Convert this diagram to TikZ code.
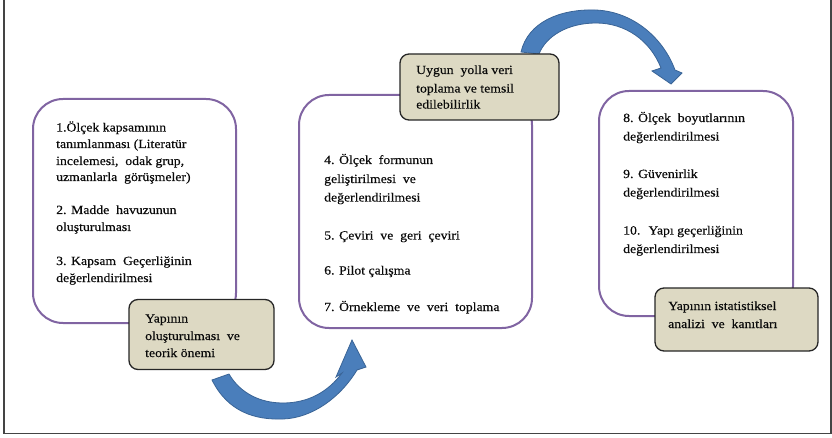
\documentclass[tikz,border=0pt]{standalone}
\usepackage{fontspec}
\usepackage{graphicx}
\setmainfont{Liberation Serif}[FakeBold=0.35]
\newcommand{\wtxt}[1]{\scalebox{1.1}[1]{#1}}
\definecolor{stagepurple}{HTML}{8064A2}
\definecolor{tagfill}{HTML}{DDD9C3}
\definecolor{arrowblue}{HTML}{4A7EBB}
\definecolor{arrowedge}{HTML}{3A6496}
\definecolor{framegray}{HTML}{444444}
\definecolor{inkc}{HTML}{0A0A0A}
\tikzset{
  stage/.style={draw=stagepurple, line width=2pt, rounded corners=30pt, fill=white},
  tagbox/.style={draw=black!85, fill=tagfill, line width=1.3pt, rounded corners=9pt},
  txt/.style={anchor=base west, inner sep=0pt, text=inkc, font=\fontsize{12.5}{14}\selectfont},
  bigarrow/.style={fill=arrowblue, draw=arrowedge, line width=0.8pt},
  frameline/.style={draw=framegray, line width=1.5pt}
}
\begin{document}
\begin{tikzpicture}[x=1pt,y=-1pt]
\useasboundingbox (0,0) rectangle (832,438);
\draw[frameline] (4,0) |- (831,433.5) -- (831,0);

% stage boxes
\node[stage, minimum width=203pt, minimum height=224pt] (s1) at (134.5,211) {};
\node[stage, minimum width=233pt, minimum height=233pt] (s2) at (415.5,211.5) {};
\node[stage, minimum width=194pt, minimum height=225pt] (s3) at (696,203.5) {};

% curved arrows
\path[bigarrow] (212,380) .. controls (228,412) and (255,420) .. (283,419)
  .. controls (312,418) and (340,398) .. (357,370) -- (366,367) -- (352,340)
  -- (336,377) -- (342,373) .. controls (328,392) and (308,403) .. (283,403)
  .. controls (260,403) and (240,393) .. (229,374) -- cycle;
\path[bigarrow] (521,52) .. controls (528,22) and (560,9) .. (595,10)
  .. controls (630,11) and (662,35) .. (675,70) -- (682,73) -- (671,84)
  -- (652,71) -- (661,68) .. controls (650,40) and (625,23) .. (596,23)
  .. controls (568,23) and (546,36) .. (539,54) -- cycle;

% tags
\node[tagbox, minimum width=145pt, minimum height=70pt] (g1) at (201.5,334.5) {};
\node[tagbox, minimum width=159pt, minimum height=66pt] (g2) at (479.5,87) {};
\node[tagbox, minimum width=163pt, minimum height=63pt] (g3) at (736.5,319.5) {};

% left stage text
\node[txt] (a1) at (56,131.5) {\wtxt{1.Ölçek kapsamının}};
\node[txt] (a2) at (56,148) {\wtxt{tanımlanması (Literatür}};
\node[txt] (a3) at (56,165) {\wtxt{incelemesi, \ odak grup,}};
\node[txt] (a4) at (56,181) {\wtxt{uzmanlarla \ görüşmeler)}};
\node[txt] (a5) at (56,214) {\wtxt{2. Madde \ havuzunun}};
\node[txt] (a6) at (56,231) {\wtxt{oluşturulması}};
\node[txt] (a7) at (56,265) {\wtxt{3. Kapsam \ Geçerliğinin}};
\node[txt] (a8) at (56,282) {\wtxt{değerlendirilmesi}};

% middle stage text
\node[txt] (b1) at (324,164) {\wtxt{4. Ölçek \ formunun}};
\node[txt] (b2) at (324,183) {\wtxt{geliştirilmesi \ ve}};
\node[txt] (b3) at (324,201.5) {\wtxt{değerlendirilmesi}};
\node[txt] (b4) at (324,239.5) {\wtxt{5. Çeviri \ ve \ geri \ çeviri}};
\node[txt] (b5) at (324,274.5) {\wtxt{6. Pilot çalışma}};
\node[txt] (b6) at (324,311) {\wtxt{7. Örnekleme \ ve \ veri \ toplama}};

% right stage text
\node[txt] (c1) at (623,122) {\wtxt{8. Ölçek \ boyutlarının}};
\node[txt] (c2) at (623,140.5) {\wtxt{değerlendirilmesi}};
\node[txt] (c3) at (623,178) {\wtxt{9. Güvenirlik}};
\node[txt] (c4) at (623,196.5) {\wtxt{değerlendirilmesi}};
\node[txt] (c5) at (623,234.5) {\wtxt{10. \ Yapı geçerliğinin}};
\node[txt] (c6) at (623,253) {\wtxt{değerlendirilmesi}};

% tag texts
\node[txt] (d1) at (145,322.5) {\wtxt{Yapının}};
\node[txt] (d2) at (145,340) {\wtxt{oluşturulması \ ve}};
\node[txt] (d3) at (145,357) {\wtxt{teorik önemi}};
\node[txt] (e1) at (416,74) {\wtxt{Uygun \ yolla veri}};
\node[txt] (e2) at (416,92.5) {\wtxt{toplama ve temsil}};
\node[txt] (e3) at (416,108.5) {\wtxt{edilebilirlik}};
\node[txt] (f1) at (668,310) {\wtxt{Yapının istatistiksel}};
\node[txt] (f2) at (668,328) {\wtxt{analizi \ ve \ kanıtları}};
\end{tikzpicture}
\end{document}
